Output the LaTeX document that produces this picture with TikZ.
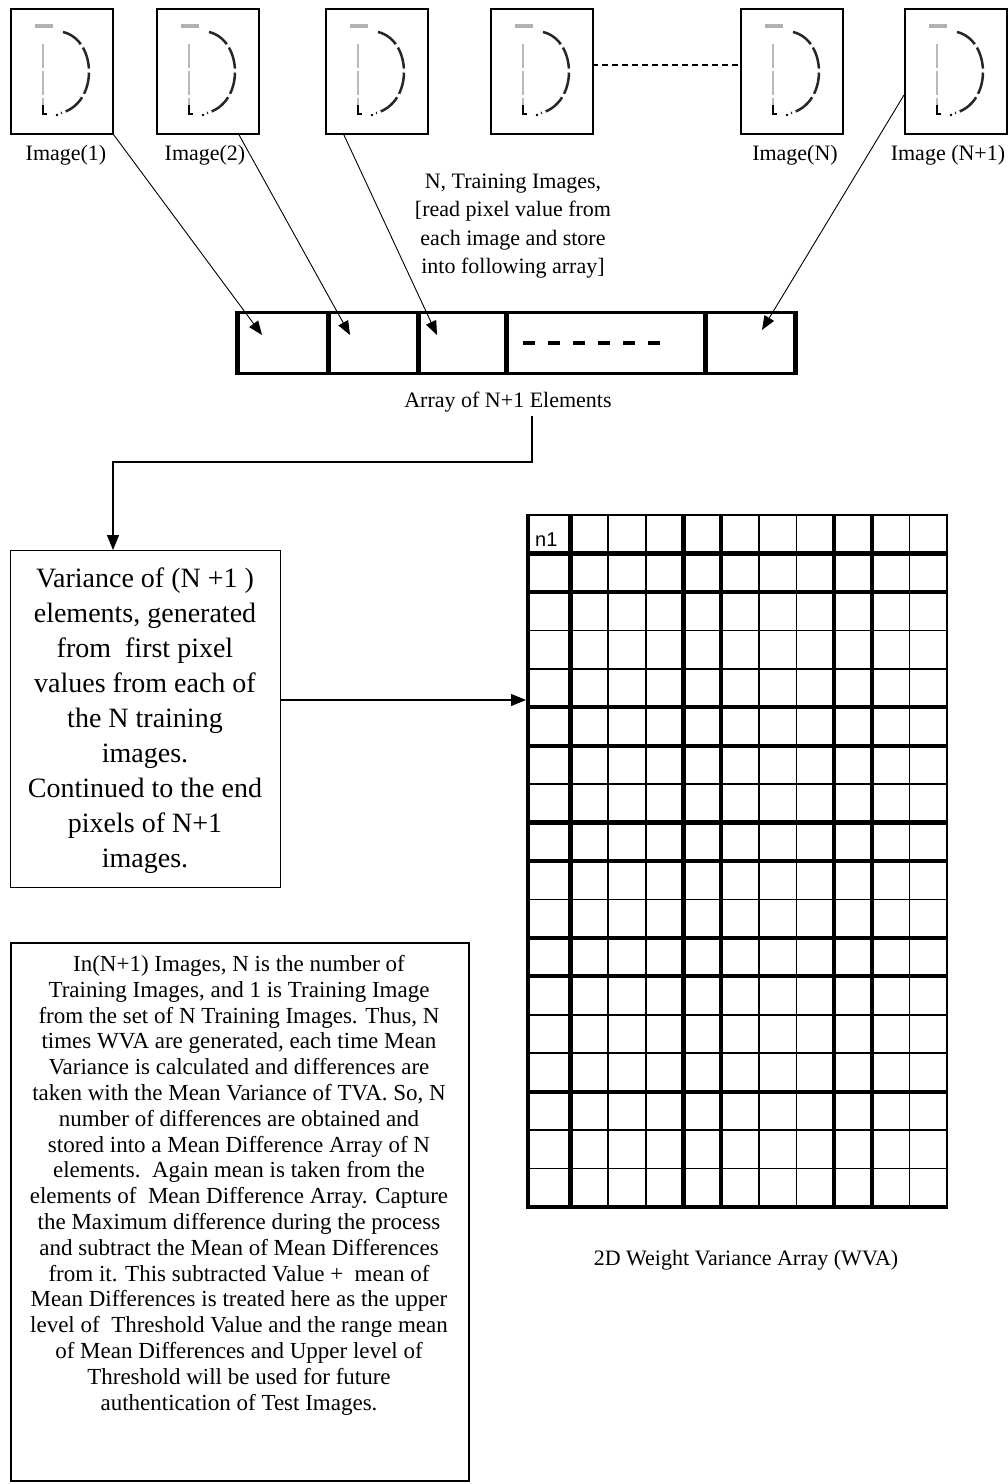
\documentclass[tikz,border=0pt]{standalone}
\usepackage{fontspec}
\setmainfont{Liberation Serif}
\newfontfamily\sansfnt{Liberation Sans}
\usetikzlibrary{arrows.meta}
\tikzset{
  imgbox/.style={draw, line width=1.5pt, minimum width=102pt, minimum height=125pt, inner sep=0pt, anchor=north west},
  lbl/.style={font=\fontsize{22}{28.5}\selectfont, inner sep=0pt},
  conn/.style={line width=0.9pt, -{Triangle[length=14pt,width=11pt]}},
  elbow/.style={line width=1.2pt, -{Triangle[length=15pt,width=12pt]}},
  gthin/.style={line width=1.6pt},
  gthick/.style={line width=4.2pt},
  dglyph/.pic={
    \draw[gray!60, line width=3.5pt] (25,18) -- (43,18);
    \draw[gray!55, line width=2.5pt, dash pattern=on 24pt off 3pt] (33,36) -- (33,99);
    \draw[black, line width=2.5pt] (33,97) -- (33,106) -- (37,106);
    \fill[black] (47,107) circle (1.4pt);
    \draw[black!85, line width=2.5pt, dash pattern=on 22pt off 4pt] (53,24) .. controls (87,32) and (89,95) .. (51,105);
  }
}
\begin{document}
\begin{tikzpicture}[x=1pt,y=-1pt]
\useasboundingbox (0,0) rectangle (1008,1484);
\fill[white] (0,0) rectangle (1008,1484);

% image boxes
\node[imgbox] (img1) at (10,8) {};
\node[imgbox] (img2) at (156,8) {};
\node[imgbox] (img3) at (325,8) {};
\node[imgbox] (img4) at (490,8) {};
\node[imgbox] (imgN) at (740,8) {};
\node[imgbox] (imgN1) at (904,8) {};
\foreach \b in {img1,img2,img3,img4,imgN,imgN1} \pic at (\b.north west) {dglyph};

\node[lbl] (l1) at (66,155) {Image(1)};
\node[lbl] (l2) at (205,155) {Image(2)};
\node[lbl] (lN) at (795,155) {Image(N)};
\node[lbl] (lN1) at (948,155) {Image (N+1)};

% dashed link between image 4 and image N
\coordinate (d1) at (592,65);
\coordinate (d2) at (740,65);
\draw[line width=1.2pt, dash pattern=on 6pt off 4pt] (d1) -- (d2);

% top explanation text
\node[lbl, align=center] (tt) at (513,226) {N, Training Images,\\{}[read pixel value from\\ each image and store\\ into following array]};

% array
\node[minimum width=558pt, minimum height=61pt, inner sep=0pt, anchor=north west] (arr) at (237,312) {};
\draw[line width=3pt] (arr.north west) -- (arr.north east) (arr.south west) -- (arr.south east);
\foreach \x in {237,328,418,506,705,795} \draw[line width=5pt] (\x,310.5) -- (\x,374.5);
\draw[line width=4pt, dash pattern=on 12pt off 13pt] (523,343) -- (663,343);

% connectors from images to the array
\coordinate (s2) at (238,133);
\coordinate (s3) at (343,133);
\coordinate (s4) at (904,95);
\coordinate (t1) at (262,335);
\coordinate (t2) at (350,335);
\coordinate (t3) at (437,335);
\coordinate (t4) at (762,330);
\draw[conn] (img1.south east) -- (t1);
\draw[conn] (s2) -- (t2);
\draw[conn] (s3) -- (t3);
\draw[conn] (s4) -- (t4);

\node[lbl] (al) at (508,402) {Array of N+1 Elements};

% variance box
\node[draw, line width=1.3pt, minimum width=270pt, minimum height=337pt, inner sep=0pt, anchor=north west] (var) at (10,550) {};
\node[align=center, inner sep=0pt, font=\fontsize{28}{35}\selectfont] (vartext) at (145,721) {Variance of (N +1 )\\ elements, generated\\ from\ \ first pixel\\ values from each of\\ the N training\\ images.\\ Continued to the end\\ pixels of N+1\\ images.};

\coordinate (c1) at (532,416);
\coordinate (vin) at (113,550);
\draw[elbow] (c1) -- (532,462) -| (vin);

% grid (2D WVA)
\node[minimum width=419pt, minimum height=692pt, inner sep=0pt, anchor=north west] (grid) at (528,515) {};
\foreach \x in {608.15,645.8,758.75,796.4,909.35} \draw[gthin] (\x,515) -- (\x,1207);
\foreach \y in {3,4,7,10,13,14,16,17} \draw[gthin] (528,515+\y*38.444) -- (947,515+\y*38.444);
\draw[line width=2pt] (526,515) -- (948,515);
\draw[line width=2.4pt] (947,515) -- (947,1209);
\foreach \y in {1,2,5,6,8,9,11,12,15,18} \draw[gthick] (528,515+\y*38.444) -- (947,515+\y*38.444);
\foreach \x in {528,570.5,683.45,721.1,834.05,871.7} \draw[gthick] (\x,514) -- (\x,1209);
\node[anchor=west, inner sep=0pt, font=\sansfnt\fontsize{20}{24}\selectfont] (n1) at (535,540) {n1};

\coordinate (vout) at (280,700);
\coordinate (gin) at (526,700);
\draw[elbow] (vout) -- (gin);

\node[lbl] (gcap) at (746,1260) {2D Weight Variance Array (WVA)};

% explanation box
\node[draw, line width=1.5pt, minimum width=458pt, minimum height=538pt, inner sep=0pt, anchor=north west] (note) at (10,942) {};
\node[anchor=north, align=center, inner sep=0pt, font=\fontsize{23}{25.8}\selectfont] (notetext) at (239,955) {In(N+1) Images, N is the number of\\ Training Images, and 1 is Training Image\\ from the set of N Training Images. Thus, N\\ times WVA are generated, each time Mean\\ Variance is calculated and differences are\\ taken with the Mean Variance of TVA. So, N\\ number of differences are obtained and\\ stored into a Mean Difference Array of N\\ elements.\ \ Again mean is taken from the\\ elements of\ \ Mean Difference Array. Capture\\ the Maximum difference during the process\\ and subtract the Mean of Mean Differences\\ from it. This subtracted Value +\ \ mean of\\ Mean Differences is treated here as the upper\\ level of\ \ Threshold Value and the range mean\\ of Mean Differences and Upper level of\\ Threshold will be used for future\\ authentication of Test Images.};
\end{tikzpicture}
\end{document}
